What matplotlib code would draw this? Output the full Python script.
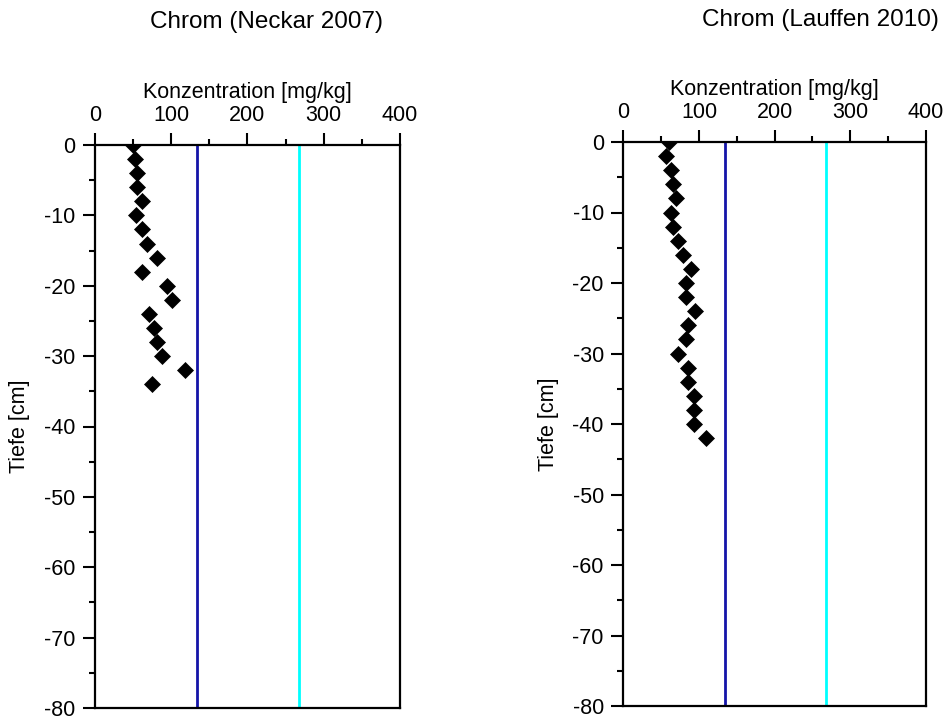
import matplotlib
matplotlib.use("Agg")
import matplotlib.pyplot as plt
from matplotlib.ticker import MultipleLocator

plt.rcParams['font.family'] = ['Liberation Sans', 'DejaVu Sans']
plt.rcParams['axes.unicode_minus'] = False

# Chromium concentration profiles [mg/kg] over sediment depth [cm]
neckar_depth = [0, -2, -4, -6, -8, -10, -12, -14, -16, -18, -20, -22, -24, -26, -28, -30, -32, -34]
neckar_conc = [50, 52, 55, 55, 62, 54, 61, 68, 81, 61, 95, 101, 71, 78, 81, 88, 118, 75]

lauffen_depth = [0, -2, -4, -6, -8, -10, -12, -14, -16, -18, -20, -22, -24, -26, -28, -30,
                 -32, -34, -36, -38, -40, -42]
lauffen_conc = [60, 56, 63, 66, 70, 63, 66, 72, 79, 89, 83, 83, 95, 86, 83, 72,
                86, 86, 93, 93, 93, 109]

# Reference values drawn as vertical lines
ref_low = 134
ref_high = 268

panels = [
    ("Chrom (Neckar 2007)", neckar_depth, neckar_conc,
     [95 / 945, 1 - 708 / 720, 305 / 945, 563 / 720], (267 / 945, 1 - 22 / 720)),
    ("Chrom (Lauffen 2010)", lauffen_depth, lauffen_conc,
     [623.3 / 945, 1 - 706 / 720, 302.7 / 945, 564 / 720], (820 / 945, 1 - 20 / 720)),
]

fig = plt.figure(figsize=(9.45, 7.2), dpi=100)

for title, depth, conc, rect, tpos in panels:
    ax = fig.add_axes(rect)
    ax.axvline(ref_low, color='#1414A8', lw=2.0, zorder=2)
    ax.axvline(ref_high, color='#00FFFF', lw=2.0, zorder=2)
    ax.plot(conc, depth, linestyle='none', marker='D', ms=8.5,
            color='black', mec='black', mew=0.5, zorder=3)

    ax.set_xlim(0, 400)
    ax.set_ylim(-80, 0)
    ax.xaxis.set_major_locator(MultipleLocator(100))
    ax.xaxis.set_minor_locator(MultipleLocator(50))
    ax.yaxis.set_major_locator(MultipleLocator(10))
    ax.yaxis.set_minor_locator(MultipleLocator(5))

    ax.xaxis.tick_top()
    ax.xaxis.set_label_position('top')
    ax.tick_params(axis='x', which='both', direction='out', top=True, bottom=False,
                   labeltop=True, labelbottom=False)
    ax.tick_params(axis='y', which='both', direction='out', left=True, right=False)
    ax.tick_params(which='major', length=9, width=1.5, labelsize=15.5, pad=5)
    ax.tick_params(which='minor', length=4, width=1.5)

    for sp in ax.spines.values():
        sp.set_linewidth(1.6)

    ax.set_xlabel("Konzentration [mg/kg]", fontsize=15.5, labelpad=5)
    ax.set_ylabel("Tiefe [cm]", fontsize=15.5, labelpad=10)

    fig.text(tpos[0], tpos[1], title, fontsize=17.5, ha='center', va='center')

fig.savefig("out.png", dpi=100)
